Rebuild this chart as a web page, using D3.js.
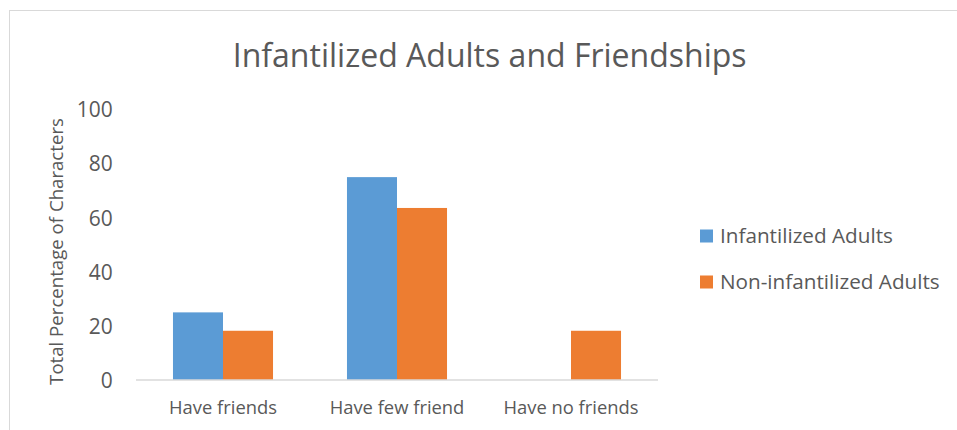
<!DOCTYPE html>
<html>
<head>
<meta charset="utf-8">
<script src="https://cdn.jsdelivr.net/npm/d3@7"></script>
<style>
  html, body { margin: 0; padding: 0; background: #fff; }
  svg { display: block; }
  text { font-family: "Open Sans", "Noto Sans", sans-serif; fill: #595959; }
</style>
</head>
<body>
<svg id="chart" width="957" height="430"></svg>
<script>
// Friendship categories and share of characters (%) per group
const categories = ["Have friends", "Have few friend", "Have no friends"];
const seriesNames = ["Infantilized Adults", "Non-infantilized Adults"];
const infantilized = [25, 75, 0];
const nonInfantilized = [18.2, 63.6, 18.2];
const yTicks = [0, 20, 40, 60, 80, 100];
const colors = ["#5B9BD5", "#ED7D31"];

const svg = d3.select("#chart");
const W = 957, H = 430;

// Outer chart frame (open towards the right and bottom edges)
svg.append("rect")
  .attr("x", 9.5).attr("y", 10.5)
  .attr("width", W + 20).attr("height", H + 20)
  .attr("fill", "#fff").attr("stroke", "#d9d9d9").attr("stroke-width", 1);

// Size text so that a sample string spans a given width
function fitSize(sample, width, base) {
  const t = svg.append("text").attr("font-size", base).text(sample);
  const w = t.node().getComputedTextLength();
  t.remove();
  return base * width / w;
}

const plot = { left: 136, right: 658, top: 109.5, bottom: 380 };

const x = d3.scaleBand()
  .domain(categories)
  .range([plot.left, plot.right])
  .paddingInner(0.425)
  .paddingOuter(0.2125);

const xSub = d3.scaleBand()
  .domain(seriesNames)
  .range([0, x.bandwidth()]);

const y = d3.scaleLinear()
  .domain([0, 100])
  .range([plot.bottom, plot.top]);

// Title
const titleSize = fitSize("Infantilized Adults and Friendships", 514, 30);
svg.append("text")
  .attr("x", 489.7).attr("y", 66.5)
  .attr("text-anchor", "middle")
  .attr("font-size", titleSize)
  .text("Infantilized Adults and Friendships");

// Bars
const rows = categories.map((c, i) => ({
  cat: c,
  values: [infantilized[i], nonInfantilized[i]]
}));

const groups = svg.append("g").selectAll("g")
  .data(rows).join("g")
  .attr("transform", d => `translate(${x(d.cat)},0)`);

groups.selectAll("rect")
  .data(d => d.values.map((v, j) => ({ v, j })))
  .join("rect")
  .attr("x", d => xSub(seriesNames[d.j]))
  .attr("width", xSub.bandwidth())
  .attr("y", d => y(d.v))
  .attr("height", d => y(0) - y(d.v))
  .attr("fill", d => colors[d.j]);

// Y axis (labels only)
const tickSize = fitSize("100", 36, 18);
const yAxis = d3.axisLeft(y).tickValues(yTicks).tickSize(0).tickPadding(0);
const yg = svg.append("g")
  .attr("transform", `translate(112.7,0)`)
  .call(yAxis);
yg.select(".domain").remove();
yg.selectAll("text")
  .attr("font-size", tickSize)
  .attr("fill", "#595959")
  .attr("font-family", null)
  .attr("dy", "0.35em");

// X axis baseline and category labels
const catSize = fitSize("Have friends", 108, 18);
const xAxis = d3.axisBottom(x).tickSize(0).tickPadding(0);
const xg = svg.append("g")
  .attr("transform", `translate(0,${plot.bottom})`)
  .call(xAxis);
xg.select(".domain")
  .attr("stroke", "#d9d9d9")
  .attr("stroke-width", 1.5)
  .attr("d", `M${plot.left},0H${plot.right}`);
xg.selectAll("text")
  .attr("font-size", catSize)
  .attr("fill", "#595959")
  .attr("font-family", null)
  .attr("dy", null)
  .attr("y", 34);

// Y axis title
const axTitleSize = fitSize("Total Percentage of Characters", 267, 16);
svg.append("text")
  .attr("transform", "translate(63,251.5) rotate(-90)")
  .attr("text-anchor", "middle")
  .attr("font-size", axTitleSize)
  .text("Total Percentage of Characters");

// Legend
const legSize = fitSize("Infantilized Adults", 173, 18);
const legend = svg.append("g").selectAll("g")
  .data(seriesNames).join("g")
  .attr("transform", (d, i) => `translate(700,${236 + i * 46})`);
legend.append("rect")
  .attr("x", 0).attr("y", -6.5)
  .attr("width", 13).attr("height", 13)
  .attr("fill", (d, i) => colors[i]);
legend.append("text")
  .attr("x", 20).attr("dy", "0.35em")
  .attr("font-size", legSize)
  .text(d => d);
</script>
</body>
</html>
